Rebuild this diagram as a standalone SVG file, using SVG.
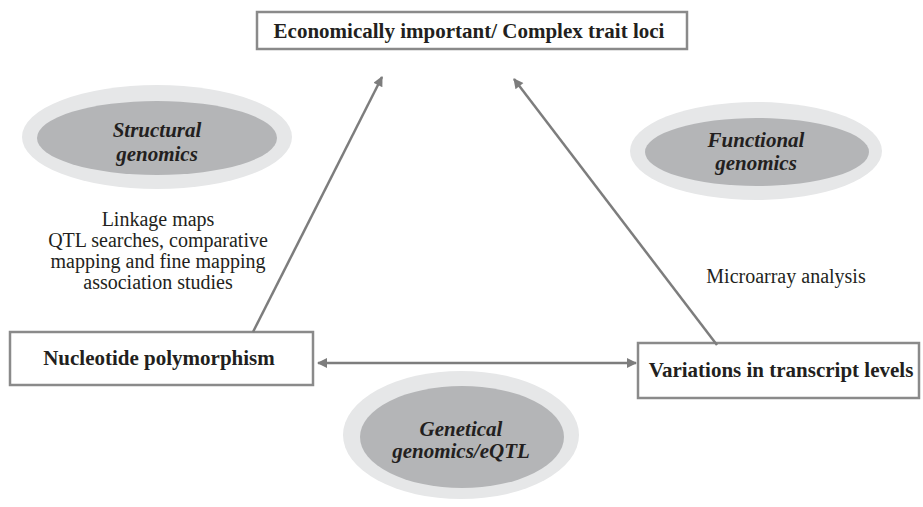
<svg xmlns="http://www.w3.org/2000/svg" width="923" height="507" viewBox="0 0 923 507">
<defs>
<style>
.box{fill:#fff;stroke:#8a8a8a;stroke-width:2.5}
.bt{font-family:"Liberation Serif",serif;font-weight:bold;font-size:21px;fill:#231f20;text-anchor:middle}
.et{font-family:"Liberation Serif",serif;font-weight:bold;font-style:italic;font-size:21px;fill:#231f20;text-anchor:middle}
.pt{font-family:"Liberation Serif",serif;font-size:20px;fill:#231f20;text-anchor:middle}
.outer{fill:#e6e7e8}
.inner{fill:#b4b5b7}
.con{stroke:#7d7d7d;stroke-width:2.5;fill:none}
</style>
<marker id="ah" viewBox="0 0 10 10" refX="9" refY="5" markerWidth="5" markerHeight="4" markerUnits="strokeWidth" orient="auto-start-reverse">
<path d="M0,0 L10,5 L0,10 z" fill="#7d7d7d"/>
</marker>
</defs>
<rect width="923" height="507" fill="#fff"/>
<g id="top">
<rect class="box" x="257" y="12" width="430" height="37"/>
<text class="bt" x="469" y="38">Economically important/ Complex trait loci</text>
</g>
<g id="structural">
<ellipse class="outer" cx="157" cy="137" rx="135" ry="52"/>
<ellipse class="inner" cx="157" cy="138" rx="120" ry="37"/>
<text class="et" x="157" y="137">Structural</text>
<text class="et" x="157" y="161">genomics</text>
</g>
<g id="structural-notes">
<text class="pt" x="158" y="226">Linkage maps</text>
<text class="pt" x="158" y="247">QTL searches, comparative</text>
<text class="pt" x="158" y="268">mapping and fine mapping</text>
<text class="pt" x="158" y="289">association studies</text>
</g>
<g id="functional">
<ellipse class="outer" cx="756" cy="151" rx="126" ry="49"/>
<ellipse class="inner" cx="757" cy="152" rx="112" ry="34"/>
<text class="et" x="756" y="147">Functional</text>
<text class="et" x="756" y="170">genomics</text>
</g>
<g id="functional-notes">
<text class="pt" x="786" y="283">Microarray analysis</text>
</g>
<g id="genetical">
<ellipse class="outer" cx="461" cy="435" rx="118" ry="64"/>
<ellipse class="inner" cx="462" cy="437" rx="102" ry="51"/>
<text class="et" x="461" y="436">Genetical</text>
<text class="et" x="461" y="458">genomics/eQTL</text>
</g>
<g id="nucleotide">
<rect class="box" x="10" y="332" width="303" height="53"/>
<text class="bt" x="159" y="365">Nucleotide polymorphism</text>
</g>
<g id="variations">
<rect class="box" x="638" y="343" width="281" height="55"/>
<text class="bt" x="781" y="377">Variations in transcript levels</text>
</g>
<g id="connectors">
<line class="con" x1="253" y1="332" x2="382" y2="77" marker-end="url(#ah)"/>
<line class="con" x1="717" y1="345" x2="514" y2="79" marker-end="url(#ah)"/>
<line class="con" x1="318" y1="363" x2="636" y2="363" marker-start="url(#ah)" marker-end="url(#ah)"/>
</g>
</svg>
